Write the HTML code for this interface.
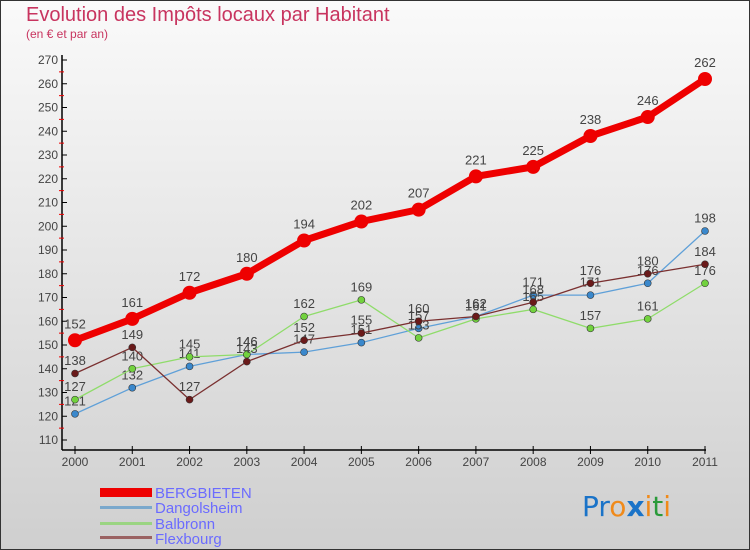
<!DOCTYPE html>
<html><head><meta charset="utf-8"><style>
body{margin:0}
svg{display:block;font-family:"Liberation Sans",sans-serif}
</style></head><body>
<svg width="750" height="550">
<defs><linearGradient id="bg" x1="0" y1="0" x2="0" y2="1"><stop offset="0" stop-color="#fafafa"/><stop offset="1" stop-color="#cfcfcf"/></linearGradient></defs>
<rect x="0.5" y="0.5" width="749" height="549" fill="url(#bg)" stroke="#333"/>
<text x="26" y="21" font-size="20" fill="#c8345f">Evolution des Impôts locaux par Habitant</text>
<text x="26" y="38" font-size="12" fill="#c8345f">(en € et par an)</text>
<g id="axes"></g><g id="series"></g>
<g>
<rect x="100" y="488" width="52" height="9" fill="#e00"/>
<text x="155" y="498" font-size="15" fill="#6b6bff">BERGBIETEN</text>
<rect x="100" y="506" width="52" height="3" fill="#7aa8cc"/>
<text x="155" y="513" font-size="15" fill="#6b6bff">Dangolsheim</text>
<rect x="100" y="522" width="52" height="3" fill="#9ad482"/>
<text x="155" y="529" font-size="15" fill="#6b6bff">Balbronn</text>
<rect x="100" y="536" width="52" height="3" fill="#9a6262"/>
<text x="155" y="544" font-size="15" fill="#6b6bff">Flexbourg</text>
</g>
<g font-size="28" font-family="DejaVu Sans,sans-serif">
<text x="582" y="516"><tspan fill="#1a73c8">Pr</tspan><tspan fill="#f08a1a">o</tspan><tspan fill="#1a73c8" font-weight="bold">x</tspan><tspan fill="#f08a1a">i</tspan><tspan fill="#2a9a3a">t</tspan><tspan fill="#f08a1a">i</tspan></text>
</g>
</svg>
<script>
const years=["2000","2001","2002","2003","2004","2005","2006","2007","2008","2009","2010","2011"];
const yTicks=[110,120,130,140,150,160,170,180,190,200,210,220,230,240,250,260,270];
const bergbieten=[152,161,172,180,194,202,207,221,225,238,246,262];
const dangolsheim=[121,132,141,146,147,151,157,162,171,171,176,198];
const balbronn=[127,140,145,146,162,169,153,161,165,157,161,176];
const flexbourg=[138,149,127,143,152,155,160,162,168,176,180,184];
const NS="http://www.w3.org/2000/svg";
const X=i=>75+i*(630/11);
const Y=v=>440-(v-110)*2.375;
function mk(tag,attrs,parent){const e=document.createElementNS(NS,tag);for(const k in attrs)e.setAttribute(k,attrs[k]);parent.appendChild(e);return e;}
const ax=document.getElementById('axes');
let l=mk('line',{x1:62,y1:55,x2:62,y2:450,stroke:'#000','stroke-width':1.5},ax);


l=mk('line',{x1:62,y1:450,x2:706,y2:450,stroke:'#000','stroke-width':1.5},ax);


yTicks.forEach((v,i)=>{
  mk('line',{x1:62,y1:Y(v),x2:67,y2:Y(v),stroke:'#000'},ax);
  if(i<yTicks.length-1)mk('line',{x1:59,y1:Y(v+5),x2:64,y2:Y(v+5),stroke:'#e00'},ax);
  const t=mk('text',{x:58,y:Y(v)+4,'font-size':12,'text-anchor':'end',fill:'#444'},ax);
  t.textContent=v;
  
  
});
years.forEach((y,i)=>{
  mk('line',{x1:X(i),y1:446,x2:X(i),y2:454,stroke:'#000'},ax);
  const t=mk('text',{x:X(i),y:466,'font-size':12,'text-anchor':'middle',fill:'#444'},ax);
  t.textContent=y;
  
  
});
const sg=document.getElementById('series');
function series(data,name,color,dot,w,r){
  const g=mk('g',{},sg);
  
  
  const p=mk('polyline',{points:data.map((v,i)=>X(i)+','+Y(v)).join(' '),fill:'none',stroke:color,'stroke-width':w,'stroke-linejoin':'round'},g);
  
  
  data.forEach((v,i)=>{
    const c=mk('circle',{cx:X(i),cy:Y(v),r:r,fill:dot,stroke:'#333','stroke-width':r>5?0:0.6},g);
    
    
    const t=mk('text',{x:X(i),y:Y(v)-(r+5),'font-size':13,'text-anchor':'middle',fill:'#444'},g);
    t.textContent=v;
    
    
  });
}
series(dangolsheim,'dangolsheim','#5fa0d8','#3a88cc',1.3,3.5);
series(balbronn,'balbronn','#8fdc6a','#72d23e',1.3,3.5);
series(flexbourg,'flexbourg','#7a3030','#6a1a1a',1.3,3.5);
series(bergbieten,'bergbieten','#ee0000','#ee0000',7,7);
</script>
</body></html>
